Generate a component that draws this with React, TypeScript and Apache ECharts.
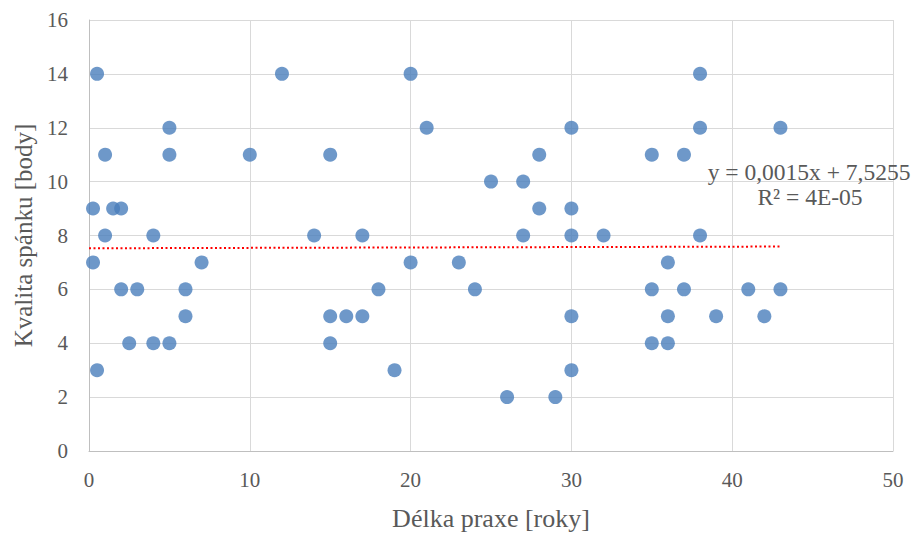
import React, { useEffect, useRef } from "react";
import * as echarts from "echarts";

const xValues = [0.25, 0.25, 0.5, 0.5, 1, 1, 1.5, 2, 2, 2.5, 3, 4, 4, 5, 5, 5, 6, 6, 7, 10, 12, 14, 15, 15, 15, 16, 17, 17, 18, 19, 20, 20, 21, 23, 24, 25, 26, 27, 27, 28, 28, 29, 30, 30, 30, 30, 30, 32, 35, 35, 35, 36, 36, 36, 37, 37, 38, 38, 38, 39, 41, 42, 43, 43];
const yValues = [9, 7, 14, 3, 11, 8, 9, 9, 6, 4, 6, 8, 4, 12, 11, 4, 6, 5, 7, 11, 14, 8, 11, 5, 4, 5, 8, 5, 6, 3, 14, 7, 12, 7, 6, 10, 2, 10, 8, 11, 9, 2, 12, 9, 8, 5, 3, 8, 11, 6, 4, 7, 5, 4, 11, 6, 14, 12, 8, 5, 6, 5, 12, 6];

const slope = 0.0015;
const intercept = 7.5255;
const trendRange = [0, 43];
const equationText = "y = 0,0015x + 7,5255";
const r2Text = "R² = 4E-05";

const xTitle = "Délka praxe [roky]";
const yTitle = "Kvalita spánku [body]";

const FONT = "'Liberation Serif', 'Times New Roman', serif";
const TXT = "#595959";

export default function App() {
  const ref = useRef<HTMLDivElement>(null);
  useEffect(() => {
    if (!ref.current) return;
    const chart = echarts.init(ref.current, null, { renderer: "svg" });
    const points = xValues.map((x, i) => [x, yValues[i]]);
    const trend = trendRange.map((x) => [x, slope * x + intercept]);
    chart.setOption({
      animation: false,
      grid: { left: 89, right: 24, top: 20, bottom: 83 },
      xAxis: {
        type: "value",
        min: 0,
        max: 50,
        interval: 10,
        name: xTitle,
        nameLocation: "middle",
        nameGap: 54,
        nameTextStyle: { fontFamily: FONT, fontSize: 26, color: TXT },
        axisLine: { show: true, lineStyle: { color: "#bfbfbf", width: 1 } },
        axisTick: { show: false },
        axisLabel: { fontFamily: FONT, fontSize: 21, color: TXT, margin: 18 },
        splitLine: { show: true, lineStyle: { color: "#d9d9d9", width: 1 } },
      },
      yAxis: {
        type: "value",
        min: 0,
        max: 16,
        interval: 2,
        name: yTitle,
        nameLocation: "middle",
        nameGap: 52,
        nameTextStyle: { fontFamily: FONT, fontSize: 25, color: TXT },
        axisLine: { show: true, lineStyle: { color: "#bfbfbf", width: 1 } },
        axisTick: { show: false },
        axisLabel: { fontFamily: FONT, fontSize: 21, color: TXT, margin: 21 },
        splitLine: { show: true, lineStyle: { color: "#d9d9d9", width: 1 } },
      },
      series: [
        {
          type: "scatter",
          data: points,
          symbol: "circle",
          symbolSize: 14,
          itemStyle: { color: "#4a7ebb" },
          z: 3,
        },
        {
          type: "line",
          data: trend,
          symbol: "none",
          lineStyle: { color: "#ff0000", width: 2, type: [2, 2.5] },
          z: 2,
        },
      ],
      graphic: [
        {
          type: "text",
          x: 809,
          y: 172,
          style: { text: equationText, fontFamily: FONT, fontSize: 23.5, fill: TXT, align: "center", verticalAlign: "middle" },
          z: 10,
        },
        {
          type: "text",
          x: 810,
          y: 197,
          style: { text: r2Text, fontFamily: FONT, fontSize: 23.5, fill: TXT, align: "center", verticalAlign: "middle" },
          z: 10,
        },
      ],
    });
    return () => chart.dispose();
  }, []);
  return <div ref={ref} style={{ width: 917, height: 536, position: "absolute", left: 0, top: 0 }} />;
}
